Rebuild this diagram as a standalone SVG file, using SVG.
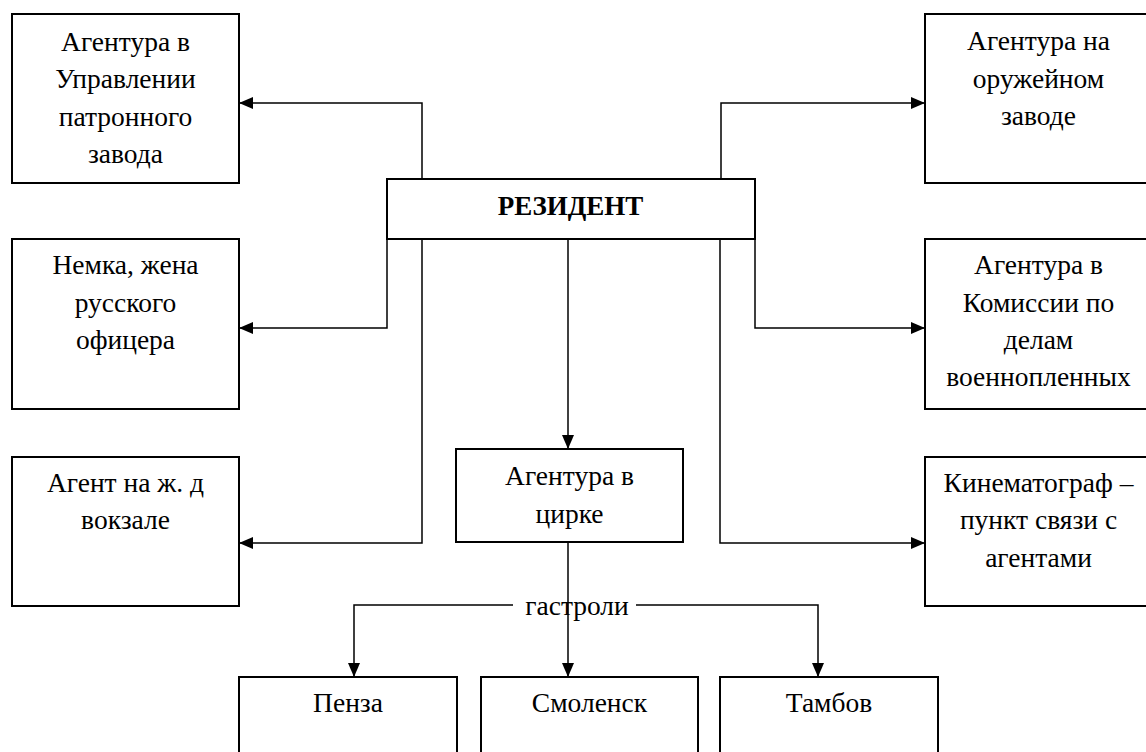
<svg xmlns="http://www.w3.org/2000/svg" width="1146" height="752" viewBox="0 0 1146 752">
<style>
.box{fill:#fff;stroke:#000;stroke-width:2}
.t{font-family:'Liberation Serif','Times New Roman',serif;font-size:27.5px;fill:#000;text-anchor:middle}
.b{font-weight:bold;font-size:27px}
.c{fill:none;stroke:#000;stroke-width:1.5}
</style>
<defs>
<marker id="ah" markerUnits="userSpaceOnUse" markerWidth="14" markerHeight="12" refX="14" refY="6" orient="auto">
<path d="M0,0 L14,6 L0,12 Z" fill="#000"/>
</marker>
</defs>
<rect width="1146" height="752" fill="#fff"/>
<g id="connectors">
<path class="c" d="M422,179 V103 H239" marker-end="url(#ah)"/>
<path class="c" d="M721,179 V103 H925" marker-end="url(#ah)"/>
<path class="c" d="M387,239 V328 H239" marker-end="url(#ah)"/>
<path class="c" d="M422,239 V543 H239" marker-end="url(#ah)"/>
<path class="c" d="M568,239 V449" marker-end="url(#ah)"/>
<path class="c" d="M755,239 V328 H925" marker-end="url(#ah)"/>
<path class="c" d="M720,239 V543 H925" marker-end="url(#ah)"/>
<path class="c" d="M568,542 V677" marker-end="url(#ah)"/>
<path class="c" d="M513,605 H354 V677" marker-end="url(#ah)"/>
<path class="c" d="M636,605 H818 V677" marker-end="url(#ah)"/>
<text class="t" x="577" y="615">гастроли</text>
</g>
<g id="n1">
<rect class="box" x="12" y="14" width="227" height="169"/>
<text class="t" x="125.5" y="51">Агентура в</text>
<text class="t" x="125.5" y="88">Управлении</text>
<text class="t" x="125.5" y="126">патронного</text>
<text class="t" x="125.5" y="163">завода</text>
</g>
<g id="n2">
<rect class="box" x="12" y="239" width="227" height="170"/>
<text class="t" x="125.5" y="274">Немка, жена</text>
<text class="t" x="125.5" y="312">русского</text>
<text class="t" x="125.5" y="349">офицера</text>
</g>
<g id="n3">
<rect class="box" x="12" y="457" width="227" height="149"/>
<text class="t" x="125.5" y="492">Агент на ж. д</text>
<text class="t" x="125.5" y="529">вокзале</text>
</g>
<g id="resident">
<rect class="box" x="387" y="179" width="368" height="60"/>
<text class="t b" x="570.5" y="215">РЕЗИДЕНТ</text>
</g>
<g id="n4">
<rect class="box" x="925" y="14" width="227" height="169"/>
<text class="t" x="1038.5" y="50">Агентура на</text>
<text class="t" x="1038.5" y="88">оружейном</text>
<text class="t" x="1038.5" y="125">заводе</text>
</g>
<g id="n5">
<rect class="box" x="925" y="239" width="227" height="170"/>
<text class="t" x="1038.5" y="274">Агентура в</text>
<text class="t" x="1038.5" y="312">Комиссии по</text>
<text class="t" x="1038.5" y="349">делам</text>
<text class="t" x="1038.5" y="386">военнопленных</text>
</g>
<g id="n6">
<rect class="box" x="925" y="457" width="227" height="149"/>
<text class="t" x="1038.5" y="492">Кинематограф –</text>
<text class="t" x="1038.5" y="529">пункт связи с</text>
<text class="t" x="1038.5" y="567">агентами</text>
</g>
<g id="circus">
<rect class="box" x="456" y="449" width="227" height="93"/>
<text class="t" x="569.5" y="485">Агентура в</text>
<text class="t" x="569.5" y="523">цирке</text>
</g>
<g id="penza">
<rect class="box" x="239" y="677" width="218" height="90"/>
<text class="t" x="348" y="712">Пенза</text>
</g>
<g id="smolensk">
<rect class="box" x="481" y="677" width="217" height="90"/>
<text class="t" x="589.5" y="712">Смоленск</text>
</g>
<g id="tambov">
<rect class="box" x="720" y="677" width="218" height="90"/>
<text class="t" x="829" y="712">Тамбов</text>
</g>
</svg>
